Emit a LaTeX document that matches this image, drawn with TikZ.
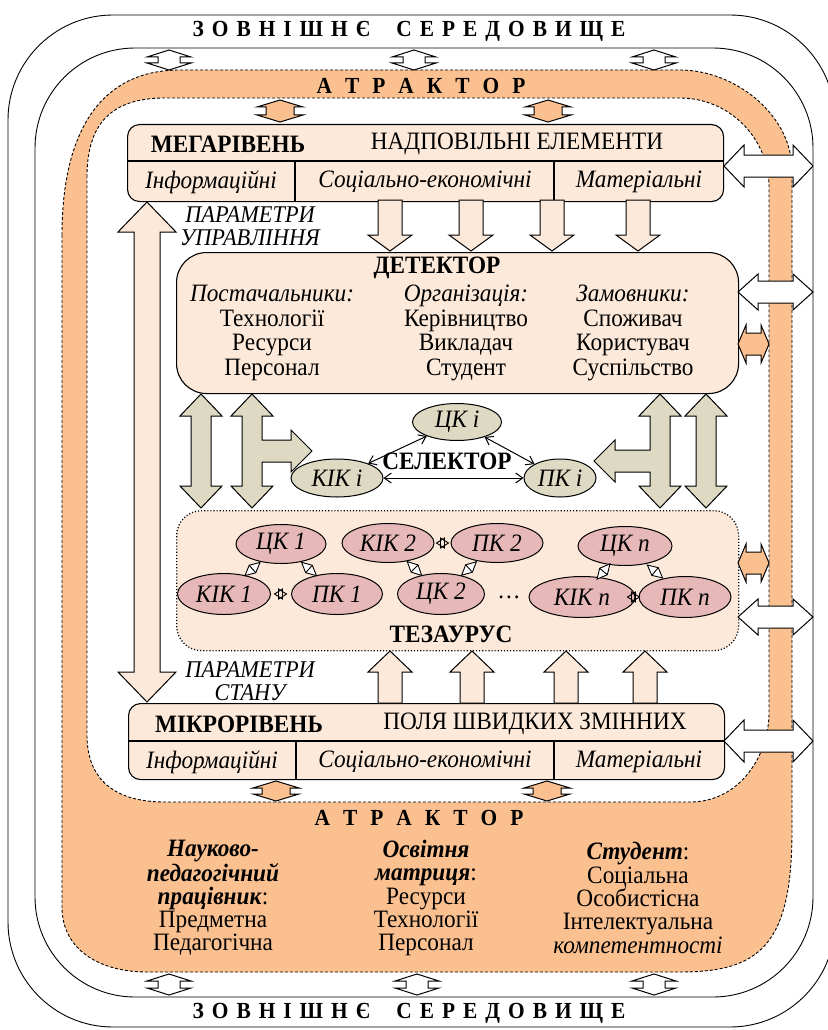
\documentclass[tikz,border=0pt]{standalone}
\usepackage{fontspec}
\setmainfont{Liberation Serif}[FakeStretch=0.93]
\usetikzlibrary{arrows.meta,shapes.geometric,calc}
\definecolor{orng}{HTML}{FAC090}
\definecolor{peach}{HTML}{FDE9D9}
\definecolor{olv}{HTML}{DDD9C3}
\definecolor{pnk}{HTML}{E6B9B8}
\newcommand{\fs}{\fontsize{25}{24.5}\selectfont}
% vertical double block arrow: fill, x, y top tip, y bottom tip, shaft half, head half, head length
\newcommand{\vdarr}[7]{\filldraw[fill=#1,blk] (#2,#3) -- ({#2+(#6)},{#3+(#7)}) -- ({#2+(#5)},{#3+(#7)}) -- ({#2+(#5)},{#4-(#7)}) -- ({#2+(#6)},{#4-(#7)}) -- (#2,#4) -- ({#2-(#6)},{#4-(#7)}) -- ({#2-(#5)},{#4-(#7)}) -- ({#2-(#5)},{#3+(#7)}) -- ({#2-(#6)},{#3+(#7)}) -- cycle;}
% horizontal double block arrow: fill, y, x left tip, x right tip, shaft half, head half, head length
\newcommand{\hdarr}[7]{\filldraw[fill=#1,blk] (#3,#2) -- ({#3+(#7)},{#2-(#6)}) -- ({#3+(#7)},{#2-(#5)}) -- ({#4-(#7)},{#2-(#5)}) -- ({#4-(#7)},{#2-(#6)}) -- (#4,#2) -- ({#4-(#7)},{#2+(#6)}) -- ({#4-(#7)},{#2+(#5)}) -- ({#3+(#7)},{#2+(#5)}) -- ({#3+(#7)},{#2+(#6)}) -- cycle;}
% single vertical block arrow: fill, x, y tail, y tip, shaft half, head half, signed head length
\newcommand{\sarr}[7]{\filldraw[fill=#1,blk] ({#2-(#5)},#3) -- ({#2+(#5)},#3) -- ({#2+(#5)},{#4-(#7)}) -- ({#2+(#6)},{#4-(#7)}) -- (#2,#4) -- ({#2-(#6)},{#4-(#7)}) -- ({#2-(#5)},{#4-(#7)}) -- cycle;}
\newcommand{\kk}{\kern 8pt}
\newcommand{\ka}{\kern 13pt}
\begin{document}
\begin{tikzpicture}[x=1pt,y=-1pt,
  blk/.style={line width=1pt, line join=miter},
  box/.style={draw, line width=1.1pt, fill=peach, rounded corners=12pt, inner sep=0pt},
  txt/.style={font=\fs, inner sep=0pt, align=center},
  ttl/.style={font=\fs\bfseries, inner sep=0pt},
  sp/.style={font=\fontsize{23}{24}\selectfont\bfseries, inner sep=0pt},
  ell/.style={ellipse, draw, line width=1pt, inner sep=0pt, font=\fs\itshape},
  dsh/.style={dash pattern=on 3pt off 2pt, line width=0.9pt},
  dbl/.style={line width=1pt, {Straight Barb[length=7pt,width=10pt]}-{Straight Barb[length=7pt,width=10pt]}},
  kt/.style={line width=0.9pt, line join=miter, fill=white},
]
\useasboundingbox (0,0) rectangle (827,1030);
% ---------- frames ----------
\draw[line width=0.9pt, rounded corners=105pt] (8,15) rectangle (835,1027);
\draw[line width=0.9pt, rounded corners=100pt] (35,48) rectangle (813,997);
\path[fill=orng, draw, dsh]
  (62,235) .. controls (62,140) and (95,70) .. (180,70)
  -- (680,70) .. controls (735,70) and (792,115) .. (792,170)
  -- (792,830) .. controls (792,945) and (760,972) .. (680,972)
  -- (147,972) .. controls (100,972) and (62,950) .. (62,907) -- cycle;
\path[fill=white, draw, dsh]
  (87,177) .. controls (87,125) and (110,98) .. (165,98)
  -- (680,98) .. controls (729,98) and (769,138) .. (769,187)
  -- (769,713) .. controls (769,755) and (740,802) .. (690,802)
  -- (165,802) .. controls (115,802) and (87,780) .. (87,735) -- cycle;
% ---------- frame titles ----------
\node[sp] (envtop) at (409,31) {З\kk О\kk В\kk Н\kk І\kk Ш\kk Н\kk Є\kern 26pt С\kk Е\kk Р\kk Е\kk Д\kk О\kk В\kk И\kk Щ\kk Е};
\node[sp] (envbot) at (409,1013) {З\kk О\kk В\kk Н\kk І\kk Ш\kk Н\kk Є\kern 26pt С\kk Е\kk Р\kk Е\kk Д\kk О\kk В\kk И\kk Щ\kk Е};
\node[sp] (attop) at (421,86) {А\ka Т\ka Р\ka А\ka К\ka Т\ka О\ka Р};
\node[sp] (atbot) at (419,818) {А\ka Т\ka Р\ka А\ka К\ka Т\ka О\ka Р};
% ---------- boxes ----------
\node[box, minimum width=596pt, minimum height=77pt, anchor=north west] (mega) at (127,124) {};
\draw[line width=1.1pt] (127,161) -- (723,161) (295,161) -- (295,201) (554,161) -- (554,201);
\node[box, rounded corners=30pt, minimum width=562pt, minimum height=141pt, anchor=north west] (det) at (176,252) {};
\node[box, dotted, line width=1.3pt, rounded corners=25pt, minimum width=562pt, minimum height=140pt, anchor=north west] (tez) at (176,510) {};
\node[box, minimum width=596pt, minimum height=76pt, anchor=north west] (micro) at (128,703) {};
\draw[line width=1.1pt] (128,741) -- (724,741) (296,741) -- (296,779) (554,741) -- (554,779);
% ---------- box texts ----------
\node[ttl] (megat) at (228,144) {МЕГАРІВЕНЬ};
\node[txt] (megan) at (517,144) {НАДПОВІЛЬНІ ЕЛЕМЕНТИ};
\node[txt,font=\fs\itshape] (m1) at (211,182) {Інформаційні};
\node[txt,font=\fs\itshape] (m2) at (425,182) {Соціально-економічні};
\node[txt,font=\fs\itshape] (m3) at (639,182) {Матеріальні};
\node[ttl] (mict) at (239,724) {МІКРОРІВЕНЬ};
\node[txt] (micn) at (535,724) {ПОЛЯ ШВИДКИХ ЗМІННИХ};
\node[txt,font=\fs\itshape] (u1) at (212,762) {Інформаційні};
\node[txt,font=\fs\itshape] (u2) at (425,762) {Соціально-економічні};
\node[txt,font=\fs\itshape] (u3) at (639,762) {Матеріальні};
\node[ttl] (dett) at (437,268) {ДЕТЕКТОР};
\node[txt] (d1) at (272,333) {\textit{Постачальники:}\\Технології\\Ресурси\\Персонал};
\node[txt] (d2) at (466,333) {\textit{Організація:}\\Керівництво\\Викладач\\Студент};
\node[txt] (d3) at (633,333) {\textit{Замовники:}\\Споживач\\Користувач\\Суспільство};
\node[ttl] (tezt) at (451,634) {ТЕЗАУРУС};
\node[txt,font=\fontsize{24}{24}\selectfont\itshape] (pu1) at (250,215) {ПАРАМЕТРИ};
\node[txt,font=\fontsize{24}{24}\selectfont\itshape] (pu2) at (250,238) {УПРАВЛІННЯ};
\node[txt,font=\fontsize{24}{24}\selectfont\itshape] (ps1) at (250,670) {ПАРАМЕТРИ};
\node[txt,font=\fontsize{24}{24}\selectfont\itshape] (ps2) at (250,693) {СТАНУ};
% ---------- attractor texts ----------
\node[txt,font=\fontsize{25}{23.3}\selectfont] (a1) at (213,898) {\textbf{\textit{Науково-}}\\\textbf{\textit{педагогічний}}\\\textbf{\textit{працівник}}:\\Предметна\\Педагогічна};
\node[txt,font=\fontsize{25}{23.3}\selectfont] (a2) at (426,898) {\textbf{\textit{Освітня}}\\\textbf{\textit{матриця}}:\\Ресурси\\Технології\\Персонал};
\node[txt,font=\fontsize{25}{23.3}\selectfont] (a3) at (638,898) {\textbf{\textit{Студент}}:\\Соціальна\\Особистісна\\Інтелектуальна\\\textit{компетентності}};
% ---------- block arrows ----------
\vdarr{peach}{147}{202}{702}{13}{29}{30}
\foreach \x in {390,471,552,638} {\sarr{peach}{\x}{200}{251}{12}{22}{16}}
\foreach \x in {390,472,566,645} {\sarr{peach}{\x}{703}{651}{12}{22}{-21}}
\vdarr{olv}{201}{394}{508}{10}{21}{22}
\vdarr{olv}{706}{394}{508}{10}{21}{22}
\filldraw[fill=olv,blk] (252,394) -- (273,416) -- (262,416) -- (262,440) -- (291,440) -- (291,430) -- (312,451) -- (291,472) -- (291,462) -- (262,462) -- (262,486) -- (273,486) -- (252,508) -- (231,486) -- (242,486) -- (242,416) -- (231,416) -- cycle;
\filldraw[fill=olv,blk] (660,394) -- (681,416) -- (670,416) -- (670,486) -- (681,486) -- (660,508) -- (639,486) -- (650,486) -- (650,472) -- (615,472) -- (615,482) -- (594,461) -- (615,440) -- (615,450) -- (650,450) -- (650,416) -- (639,416) -- cycle;
% frame arrows
\foreach \x in {169,414,654} {\vdarr{white}{\x}{50}{70}{11}{22}{7}}
\foreach \x in {169,417,654} {\vdarr{white}{\x}{974}{995}{11}{22}{7}}
\foreach \x in {280,548} {\vdarr{orng}{\x}{100}{122}{14}{23}{7}}
\foreach \x in {276,547} {\vdarr{orng}{\x}{781}{801}{14}{23}{7}}
\hdarr{white}{166}{724}{813}{11}{21}{20}
\hdarr{white}{292}{738}{813}{11}{18}{20}
\hdarr{white}{617}{738}{813}{11}{18}{20}
\hdarr{white}{741}{724}{813}{11}{21}{20}
\hdarr{orng}{344}{738}{769}{11}{19}{8}
\hdarr{orng}{563}{738}{769}{11}{19}{8}
% ---------- selector ----------
\node[ell, fill=olv, minimum width=89pt, minimum height=37pt] (cki) at (457,422) {ЦК і};
\node[ell, fill=olv, minimum width=92pt, minimum height=38pt] (kiki) at (337,478) {КІК і};
\node[ell, fill=olv, minimum width=72pt, minimum height=38pt] (pki) at (560,478) {ПК і};
\node[ttl] (selt) at (447,461) {СЕЛЕКТОР};
\draw[dbl] (cki) -- (kiki);
\draw[dbl] (cki) -- (pki);
\draw[dbl] (kiki) -- (pki);
% ---------- thesaurus ----------
\node[ell, fill=pnk, minimum width=90pt, minimum height=39pt] (c1) at (281,544) {ЦК 1};
\node[ell, fill=pnk, minimum width=93pt, minimum height=41pt] (k1) at (224,594) {КІК 1};
\node[ell, fill=pnk, minimum width=91pt, minimum height=41pt] (p1) at (337,594) {ПК 1};
\node[ell, fill=pnk, minimum width=92pt, minimum height=39pt] (k2) at (388,543) {КІК 2};
\node[ell, fill=pnk, minimum width=92pt, minimum height=39pt] (p2) at (497,543) {ПК 2};
\node[ell, fill=pnk, minimum width=87pt, minimum height=41pt] (c2) at (441,594) {ЦК 2};
\node[ell, fill=pnk, minimum width=94pt, minimum height=39pt] (cn) at (625,546) {ЦК \textit{n}};
\node[ell, fill=pnk, minimum width=106pt, minimum height=41pt] (kn) at (582,597) {КІК \textit{n}};
\node[ell, fill=pnk, minimum width=92pt, minimum height=41pt] (pn) at (685,597) {ПК \textit{n}};
\node[txt] (dots) at (509,597) {…};
% diamond-shaped double arrows between the ellipses
\foreach \a/\b in {c1/k1, c1/p1, k2/c2, p2/c2, cn/kn, cn/pn} {
  \coordinate (m) at ($(\a)!0.5!(\b)$);
  \coordinate (ta) at ($(m)!10pt!(\a)$);
  \coordinate (tb) at ($(m)!10pt!(\b)$);
  \coordinate (s1) at ($(m)!5pt!90:(\b)$);
  \coordinate (s2) at ($(m)!5pt!-90:(\b)$);
  \filldraw[kt] (ta) -- (s1) -- (tb) -- (s2) -- cycle;
  \draw[kt] (s1) -- (s2);
}
% crossed double arrows between neighbouring ellipses
\foreach \a/\b in {k1/p1, k2/p2, kn/pn} {
  \coordinate (m) at ($(\a)!0.5!(\b)$);
  \coordinate (ta) at ($(m)!6pt!(\a)$);
  \coordinate (tb) at ($(m)!6pt!(\b)$);
  \coordinate (ba) at ($(m)!2pt!(\a)$);
  \coordinate (bb) at ($(m)!2pt!(\b)$);
  \draw[kt, fill=none] (tb) -- ($(ba)!5pt!90:(\a)$) -- ($(ba)!5pt!-90:(\a)$) -- cycle;
  \draw[kt, fill=none] (ta) -- ($(bb)!5pt!90:(\b)$) -- ($(bb)!5pt!-90:(\b)$) -- cycle;
}
\end{tikzpicture}
\end{document}
